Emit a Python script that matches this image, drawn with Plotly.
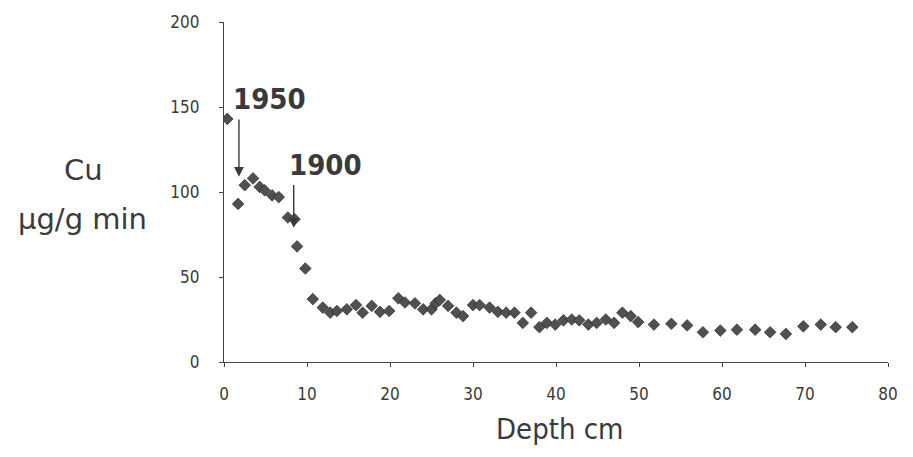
import plotly.graph_objects as go

depth = [0.4, 1.7, 2.5, 3.5, 4.3, 4.9, 5.8, 6.6, 7.7, 8.5, 8.8, 9.8, 10.7, 11.9, 12.8, 13.6,
         14.8, 15.9, 16.7, 17.8, 18.8, 19.9, 21.0, 21.8, 23.0, 24.0, 25.0, 25.5, 26.0, 27.0,
         28.0, 28.8, 30.0, 30.8, 32.0, 33.0, 34.0, 35.0, 36.0, 37.0, 38.0, 38.9, 39.9, 40.9,
         41.9, 42.8, 43.9, 44.9, 46.0, 47.0, 48.0, 49.0, 49.9, 51.8, 53.9, 55.8, 57.7, 59.8,
         61.8, 64.0, 65.8, 67.7, 69.8, 71.9, 73.7, 75.7]
cu = [143, 93, 104, 108, 103, 101, 98, 97, 85, 84, 68, 55, 37, 32, 29, 30,
      31, 33.5, 29, 33, 29.5, 30, 37.5, 35, 34.5, 31, 31, 34.5, 36.5, 33,
      29, 27, 33.5, 33.5, 32, 29.5, 29, 29, 23, 29, 20.5, 23, 22, 24.5,
      25, 24.5, 22, 23, 25, 23, 29, 27, 23.5, 22, 22.5, 21.5, 17.5, 18.5,
      19, 19, 17.5, 16.5, 21, 22, 20.5, 20.5]

x_ticks = [0, 10, 20, 30, 40, 50, 60, 70, 80]
x_tick_labels = ["0", "10", "20", "30", "40", "50", "60", "70", "80"]
y_ticks = [0, 50, 100, 150, 200]
y_tick_labels = ["0", "50", "100", "150", "200"]

marks = ["1950", "1900"]
mark_x = [1.8, 8.4]
mark_tip = [109, 79]
mark_tail = [143.5, 105]
label_x = [5.5, 12.2]
label_y = [155, 116]

font_main = "DejaVu Sans"
font_cond = "DejaVu Sans Condensed"
ink = "#3a3a3a"

# page body has an 8px margin; figure sized to fit the 913x457 window
W, H = 897, 441
L, R, T, B = 216, 17, 14, 87
pw, ph = W - L - R, H - T - B


def px_to_paper(px, py):
    # px, py in window pixels
    return (px - 8 - L) / pw, (H - B - (py - 8)) / ph


fig = go.Figure()
fig.add_trace(go.Scatter(
    x=depth, y=cu, mode="markers",
    marker=dict(symbol="diamond", size=9, color="#505050",
                line=dict(width=0.6, color="#222222")),
    showlegend=False, hoverinfo="x+y"))

for i, m in enumerate(marks):
    fig.add_annotation(x=label_x[i], y=label_y[i], xref="x", yref="y", text="<b>%s</b>" % m,
                       showarrow=False, font=dict(family=font_cond, size=29, color=ink))
    fig.add_annotation(x=mark_x[i], y=mark_tip[i], ax=mark_x[i], ay=mark_tail[i],
                       xref="x", yref="y", axref="x", ayref="y", text="",
                       showarrow=True, arrowhead=2, arrowsize=1.4, arrowwidth=1.4, arrowcolor=ink)

cx, cy = px_to_paper(83, 170)
fig.add_annotation(xref="paper", yref="paper", x=cx, y=cy, xanchor="center", yanchor="middle",
                   text="Cu", showarrow=False, font=dict(family=font_main, size=29, color=ink))
ux, uy = px_to_paper(82, 219)
fig.add_annotation(xref="paper", yref="paper", x=ux, y=uy, xanchor="center", yanchor="middle",
                   text="µg/g min", showarrow=False, font=dict(family=font_main, size=29, color=ink))
dx, dy = px_to_paper(560, 429)
fig.add_annotation(xref="paper", yref="paper", x=dx, y=dy, xanchor="center", yanchor="middle",
                   text="Depth cm", showarrow=False, borderpad=0,
                   font=dict(family=font_cond, size=29, color=ink))

fig.update_layout(
    width=W, height=H,
    margin=dict(l=L, r=R, t=T, b=B, autoexpand=False),
    paper_bgcolor="white", plot_bgcolor="white",
    font=dict(family=font_main, color=ink),
    xaxis=dict(range=[0, 80], tickvals=x_ticks, ticktext=x_tick_labels,
               showgrid=False, zeroline=False, showline=True, linecolor="#444", linewidth=1.2,
               ticks="outside", ticklen=4, tickcolor="#444", ticklabelstandoff=12,
               tickfont=dict(family=font_cond, size=17, color=ink)),
    yaxis=dict(range=[0, 200], tickvals=y_ticks, ticktext=y_tick_labels,
               showgrid=False, zeroline=False, showline=True, linecolor="#444", linewidth=1.2,
               ticks="outside", ticklen=4, tickcolor="#444", ticklabelstandoff=16,
               tickfont=dict(family=font_cond, size=17, color=ink)),
)

fig.write_html("out.html")
